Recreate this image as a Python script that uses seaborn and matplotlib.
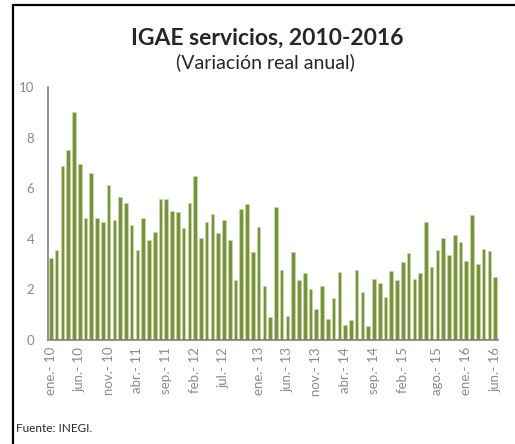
import matplotlib
matplotlib.use("Agg")
import matplotlib.pyplot as plt
from matplotlib.lines import Line2D
import pandas as pd
import seaborn as sns

# monthly annual real variation, ene-2010 .. jun-2016
month_abbr = ["ene.", "feb.", "mar.", "abr.", "may.", "jun.",
              "jul.", "ago.", "sep.", "oct.", "nov.", "dic."]
years = [10, 11, 12, 13, 14, 15, 16]
months = [f"{m}- {y}" for y in years for m in month_abbr][:78]

values = [3.23, 3.55, 6.89, 7.51, 9.02, 6.97, 4.83, 6.60, 4.83, 4.67, 6.13, 4.75,
          5.66, 5.41, 4.54, 3.55, 4.83, 3.94, 4.26, 5.58, 5.59, 5.09, 5.05, 4.43,
          5.41, 6.49, 4.02, 4.66, 4.97, 4.22, 4.75, 3.97, 2.36, 5.17, 5.37, 3.47,
          4.47, 2.12, 0.90, 5.25, 2.76, 0.94, 3.48, 2.36, 2.65, 2.01, 1.21, 2.12,
          0.83, 1.65, 2.69, 0.61, 0.79, 2.76, 1.90, 0.55, 2.41, 2.26, 1.70, 2.73,
          2.37, 3.10, 3.44, 2.41, 2.63, 4.67, 2.89, 3.55, 4.04, 3.34, 4.16, 3.87,
          3.13, 4.95, 3.01, 3.59, 3.51, 2.48]

tick_labels = ["ene.- 10", "jun.- 10", "nov.- 10", "abr.- 11", "sep.- 11", "feb.- 12",
               "jul.- 12", "ene.- 13", "jun.- 13", "nov.- 13", "abr.- 14", "sep.- 14",
               "feb.- 15", "ago.- 15", "ene.- 16", "jun.- 16"]

df = pd.DataFrame({"mes": months, "valor": values})

sns.set_style("white")
plt.rcParams["font.family"] = ["Lato", "DejaVu Sans"]

fig = plt.figure(figsize=(5.15, 4.44), dpi=100)
ax = fig.add_axes([48 / 515, 104 / 444, 450 / 515, 253 / 444])

sns.barplot(data=df, x="mes", y="valor", color="#77933C", saturation=1,
            width=0.62, edgecolor="#c9dba6", linewidth=0.5, ax=ax)

gray = "#8a8a8a"
ax.set_ylim(0, 10)
ax.set_xlim(-0.5, len(months) - 0.5)
ax.set_yticks([0, 2, 4, 6, 8, 10])
ticks = [months.index(t) for t in tick_labels]
ax.set_xticks(ticks)
ax.set_xticklabels(tick_labels, rotation=90)
ax.set_xlabel("")
ax.set_ylabel("")
ax.tick_params(axis="y", direction="in", length=3, color=gray, labelcolor=gray,
               labelsize=9.5, pad=10)
ax.tick_params(axis="x", length=0, labelcolor=gray, labelsize=9.5, pad=5)
for s in ["top", "right"]:
    ax.spines[s].set_visible(False)
for s in ["left", "bottom"]:
    ax.spines[s].set_color("#7f7f7f")
    ax.spines[s].set_linewidth(1.2)

fig.text(267 / 515, 1 - 38 / 444, "IGAE servicios, 2010-2016", ha="center", va="center",
         fontsize=16.5, fontweight="bold")
fig.text(265 / 515, 1 - 62 / 444, "(Variación real anual)", ha="center", va="center",
         fontsize=14)
fig.text(16 / 515, 1 - 428 / 444, "Fuente: INEGI.", ha="left", va="center", fontsize=8.5)

# frame lines (left and top)
fig.add_artist(Line2D([13 / 515, 13 / 515], [0, 1 - 5 / 444], color="black", lw=1.6,
                      transform=fig.transFigure))
fig.add_artist(Line2D([13 / 515, 1], [1 - 5 / 444, 1 - 5 / 444], color="black", lw=1.6,
                      transform=fig.transFigure))

fig.savefig("out.png", dpi=100)
